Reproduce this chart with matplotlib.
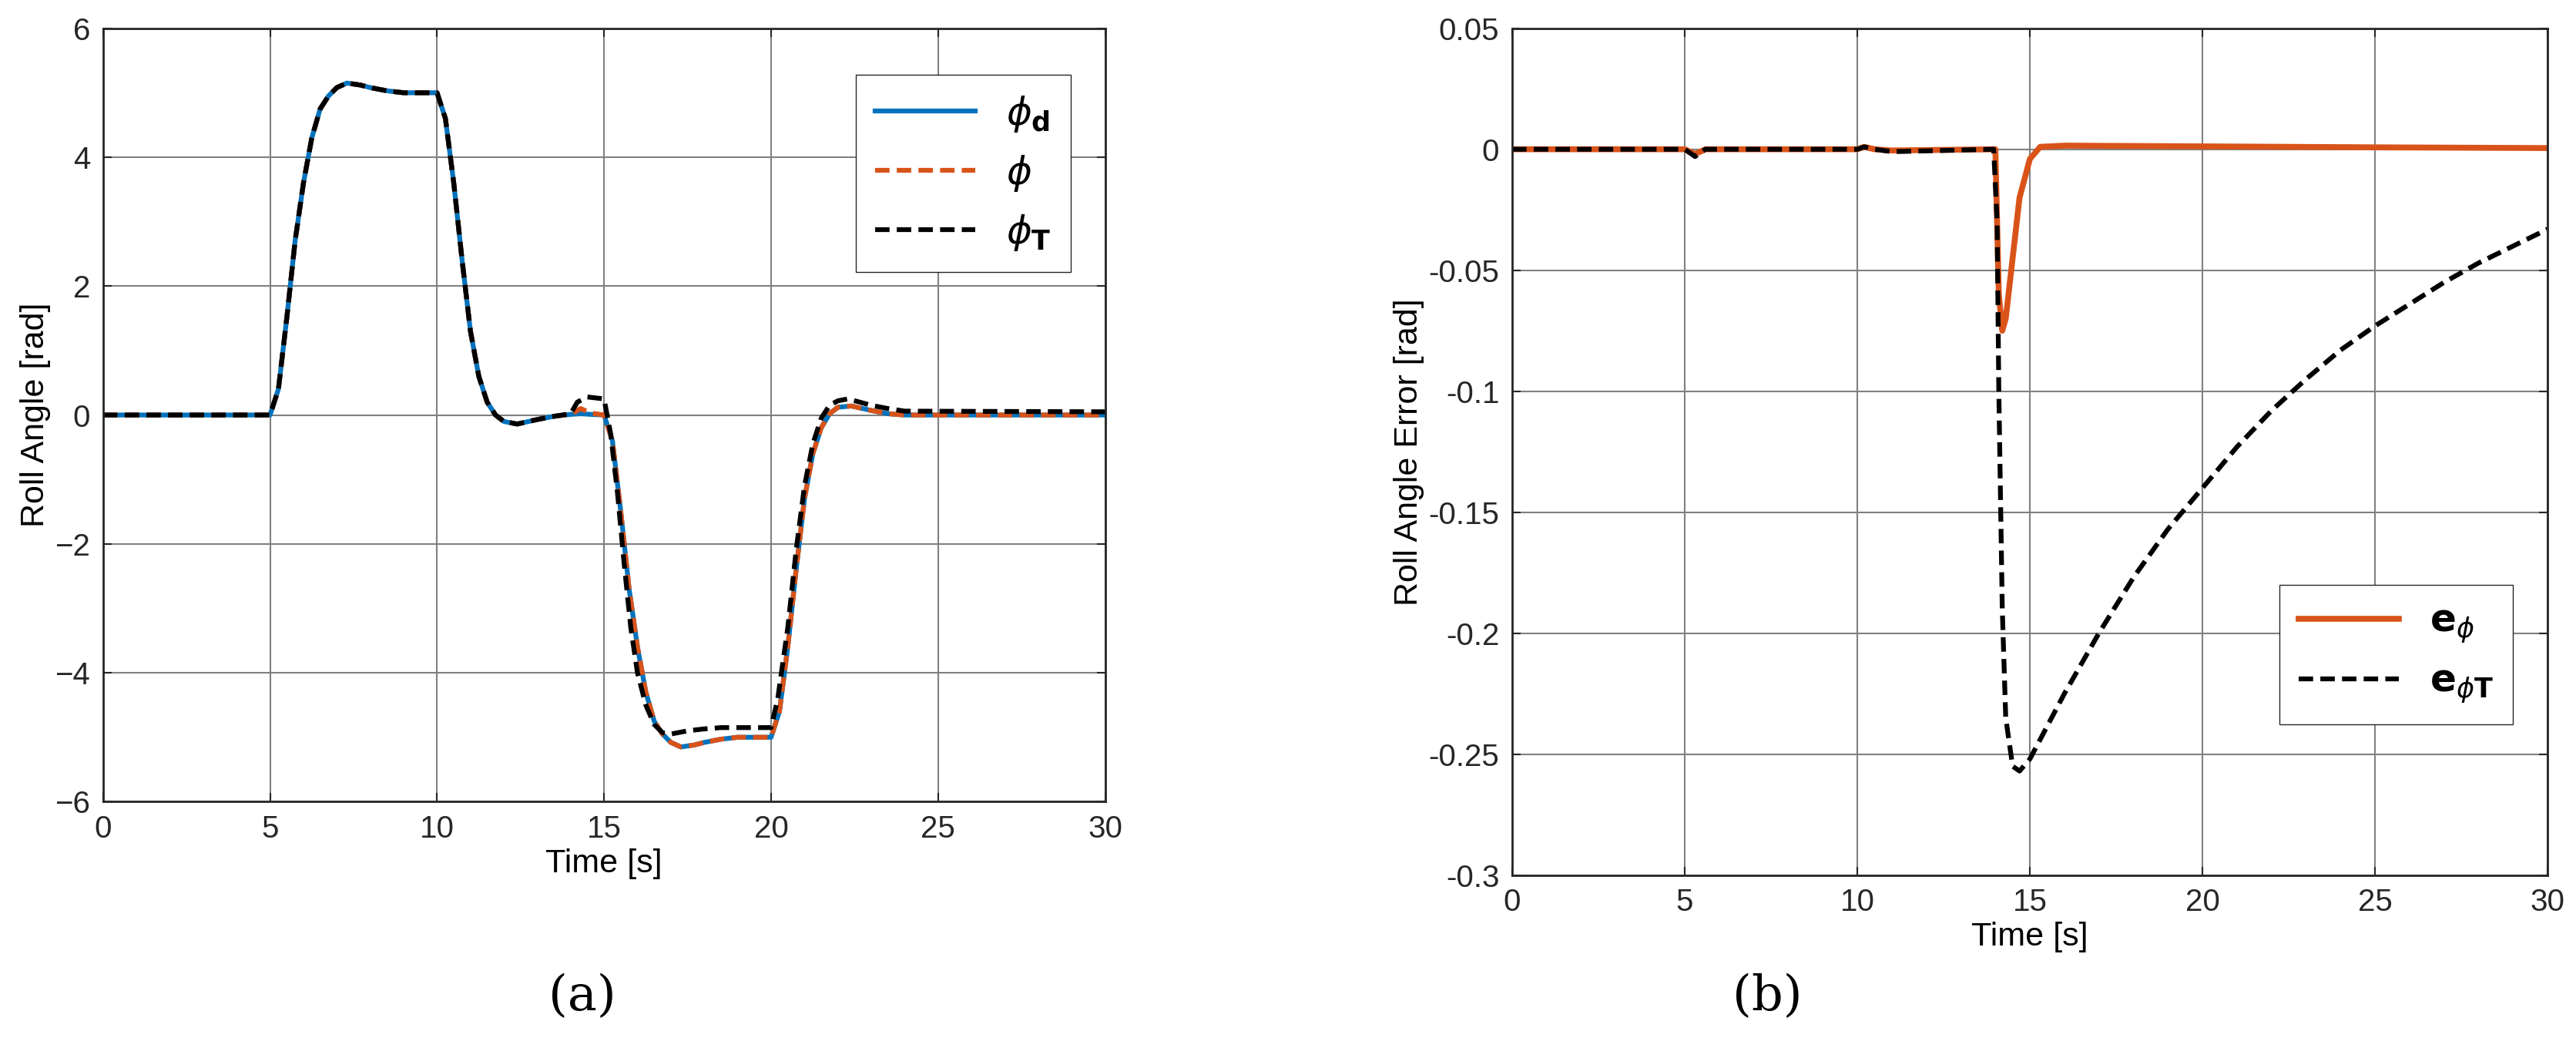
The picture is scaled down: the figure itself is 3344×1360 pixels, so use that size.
import matplotlib
matplotlib.use("Agg")
import matplotlib.pyplot as plt

plt.rcParams['font.family'] = ['Liberation Sans', 'DejaVu Sans']
plt.rcParams['mathtext.fontset'] = 'dejavusans'

# ---- data (a) ----
t_a = [0,5,5.25,5.5,5.75,6,6.25,6.5,6.75,7,7.3,7.7,8,8.5,9,10,10.25,10.5,10.75,11,11.25,11.5,11.75,12,12.4,13,13.5,14,14.3,14.6,15,15.25,15.5,15.75,16,16.25,16.5,16.75,17,17.3,17.7,18,18.5,19,20,20.25,20.5,20.75,21,21.25,21.5,21.75,22,22.4,23,23.5,24,30]
phi_d = [0,0,0.4,1.5,2.7,3.6,4.3,4.75,4.95,5.08,5.15,5.12,5.08,5.03,5.0,5.0,4.6,3.6,2.4,1.3,0.6,0.2,0,-0.1,-0.14,-0.07,-0.02,0.01,0.02,0.01,0,-0.4,-1.5,-2.7,-3.6,-4.3,-4.75,-4.95,-5.08,-5.15,-5.12,-5.08,-5.03,-5.0,-5.0,-4.6,-3.6,-2.4,-1.3,-0.6,-0.2,0.02,0.12,0.14,0.07,0.02,0,0]
phi = [0,0,0.4,1.5,2.7,3.6,4.3,4.75,4.95,5.08,5.15,5.12,5.08,5.03,5.0,5.0,4.6,3.6,2.4,1.3,0.6,0.2,0,-0.1,-0.14,-0.07,-0.02,0.01,0.1,0.03,0,-0.4,-1.5,-2.7,-3.6,-4.3,-4.75,-4.95,-5.08,-5.15,-5.12,-5.08,-5.03,-5.0,-5.0,-4.6,-3.6,-2.4,-1.3,-0.6,-0.2,0.02,0.12,0.14,0.07,0.02,0,0]
t_T = [0,5,5.25,5.5,5.75,6,6.25,6.5,6.75,7,7.3,7.7,8,8.5,9,10,10.25,10.5,10.75,11,11.25,11.5,11.75,12,12.4,13,13.5,14,14.2,14.5,15,15.2,15.4,15.6,15.8,16,16.25,16.5,16.75,17,17.5,18,18.5,19,20,20.2,20.5,20.75,21,21.25,21.5,21.75,22,22.3,23,23.5,24,30]
phi_T = [0,0,0.4,1.5,2.7,3.6,4.3,4.75,4.95,5.08,5.15,5.12,5.08,5.03,5.0,5.0,4.6,3.6,2.4,1.3,0.6,0.2,0,-0.1,-0.14,-0.07,-0.02,0.02,0.2,0.28,0.25,-0.3,-1.2,-2.3,-3.3,-4.0,-4.5,-4.8,-4.93,-4.95,-4.9,-4.87,-4.85,-4.85,-4.85,-4.4,-3.3,-2.1,-1.1,-0.45,-0.05,0.15,0.22,0.25,0.15,0.1,0.06,0.05]

# ---- data (b) ----
t_b = [0,5,5.3,5.6,6,10,10.2,10.5,11,14,14.05,14.1,14.2,14.3,14.5,14.7,15,15.3,16,20,25,30]
e_phi = [0,0,-0.002,0.0,0.0,0.0,0.001,0.0,-0.0005,0,-0.03,-0.06,-0.075,-0.07,-0.045,-0.02,-0.004,0.001,0.0015,0.0012,0.0008,0.0005]
t_bT = [0,5,5.3,5.6,6,10,10.2,10.5,11,13.95,14.05,14.1,14.2,14.3,14.5,14.7,15,16,17,18,19,20,21,22,23,24,25,26,27,28,29,30]
e_phiT = [0,0,-0.003,0.0,0.0,0.0,0.001,0.0,-0.001,0,-0.03,-0.1,-0.19,-0.235,-0.255,-0.257,-0.252,-0.225,-0.2,-0.177,-0.157,-0.14,-0.123,-0.108,-0.095,-0.083,-0.073,-0.064,-0.055,-0.047,-0.04,-0.033]

xticks = [0,5,10,15,20,25,30]
yticks_a = [-6,-4,-2,0,2,4,6]
yticks_b = [-0.3,-0.25,-0.2,-0.15,-0.1,-0.05,0,0.05]
ylabels_b = ['-0.3','-0.25','-0.2','-0.15','-0.1','-0.05','0','0.05']

BLUE = '#0072BD'; ORANGE = '#D95319'
fig = plt.figure(figsize=(33.44, 13.6), dpi=100)
ax1 = fig.add_axes([0.040, 0.235, 0.389, 0.738])
ax2 = fig.add_axes([0.587, 0.165, 0.402, 0.808])

lw = 4.5
ax1.plot(t_a, phi_d, color=BLUE, lw=lw, label=r'$\phi_{\mathbf{d}}$')
ax1.plot(t_a, phi, color=ORANGE, lw=lw, ls=(0, (3, 1.5)), label=r'$\phi$')
ax1.plot(t_T, phi_T, color='black', lw=lw, ls=(0, (3, 1.5)), label=r'$\phi_{\mathbf{T}}$')
ax1.set_xlim(0, 30); ax1.set_ylim(-6, 6)
ax1.set_xticks(xticks); ax1.set_yticks(yticks_a)
ax1.set_xlabel('Time [s]', fontsize=31)
ax1.set_ylabel('Roll Angle [rad]', fontsize=31)
ax1.legend(loc='upper right', fontsize=36, bbox_to_anchor=(0.985, 0.965), handlelength=2.6, fancybox=False, edgecolor='#262626', framealpha=1, borderpad=0.5)

ax2.plot(t_b, e_phi, color=ORANGE, lw=lw+1, label=r'$\mathbf{e}_{\phi}$')
ax2.plot(t_bT, e_phiT, color='black', lw=lw, ls=(0, (3, 1.5)), label=r'$\mathbf{e}_{\phi\mathbf{T}}$')
ax2.set_xlim(0, 30); ax2.set_ylim(-0.3, 0.05)
ax2.set_xticks(xticks); ax2.set_yticks(yticks_b); ax2.set_yticklabels(ylabels_b)
ax2.set_xlabel('Time [s]', fontsize=31)
ax2.set_ylabel('Roll Angle Error [rad]', fontsize=31)
ax2.legend(loc='lower right', fontsize=36, bbox_to_anchor=(0.985, 0.155), handlelength=2.6, fancybox=False, edgecolor='#262626', framealpha=1, borderpad=0.5)

for ax in (ax1, ax2):
    ax.grid(True, color='#808080', lw=1.5)
    ax.set_axisbelow(True)
    ax.tick_params(labelsize=29, direction='in', length=8, width=1.5, pad=12, top=True, right=True, colors='#262626')
    for s in ax.spines.values():
        s.set_linewidth(2); s.set_color('#262626')

fig.text(0.226, 0.049, '(a)', fontsize=46, family='DejaVu Serif', ha='center', va='center')
fig.text(0.686, 0.049, '(b)', fontsize=46, family='DejaVu Serif', ha='center', va='center')
fig.savefig('out.png', dpi=100)
